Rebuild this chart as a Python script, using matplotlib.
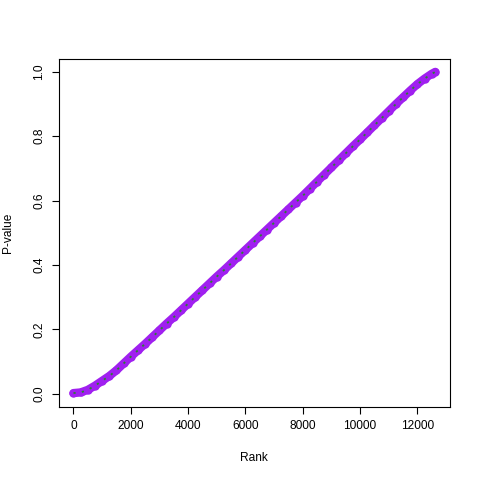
import matplotlib
matplotlib.use("Agg")
import matplotlib.pyplot as plt

plt.rcParams['font.family'] = ['Liberation Sans', 'DejaVu Sans']

# Rank of sorted p-values and their values
rank = [0, 250, 500, 750, 1000, 1250, 1500, 1750, 2000, 2250, 2500, 2750,
        3000, 3250, 3500, 3750, 4000, 4250, 4500, 4750, 5000, 5250, 5500,
        5750, 6000, 6250, 6500, 6750, 7000, 7250, 7500, 7750, 8000, 8250,
        8500, 8750, 9000, 9250, 9500, 9750, 10000, 10250, 10500, 10750,
        11000, 11250, 11500, 11750, 12000, 12250, 12500, 12625]
pvalue = [0.002, 0.004, 0.012, 0.025, 0.040, 0.055, 0.073, 0.094, 0.115,
          0.135, 0.155, 0.176, 0.197, 0.218, 0.238, 0.259, 0.280, 0.301,
          0.322, 0.343, 0.364, 0.384, 0.405, 0.426, 0.447, 0.468, 0.489,
          0.510, 0.531, 0.552, 0.573, 0.594, 0.615, 0.637, 0.659, 0.681,
          0.703, 0.725, 0.747, 0.769, 0.790, 0.812, 0.834, 0.856, 0.878,
          0.900, 0.921, 0.942, 0.962, 0.979, 0.994, 1.000]

xticks = [0, 2000, 4000, 6000, 8000, 10000, 12000]
yticks = [0.0, 0.2, 0.4, 0.6, 0.8, 1.0]

fig = plt.figure(figsize=(4.8, 4.8), dpi=100)
ax = fig.add_axes([59 / 480, (480 - 406.6) / 480, (449.8 - 59) / 480, (406.6 - 59) / 480])

purple = "#A020F0"
ax.plot(rank, pvalue, color=purple, lw=6.0, solid_capstyle='round',
        solid_joinstyle='round', zorder=2)
ax.plot(rank, pvalue, 'o', color=purple, ms=6.0, mew=0, zorder=3)
ax.plot(rank, pvalue, color="#1E8C1E", lw=1.3, dashes=(1.2, 3.5), alpha=0.9, zorder=4)

n = rank[-1]
ax.set_xlim(-0.04 * n, 1.04 * n)
ax.set_ylim(-0.04, 1.04)
ax.set_xticks(xticks)
ax.set_xticklabels([str(t) for t in xticks])
ax.set_yticks(yticks)
ax.set_yticklabels([f"{t:.1f}" for t in yticks], rotation=90, va='center')
ax.tick_params(direction='out', length=5.2, width=0.8, labelsize=8.6, pad=4.5, colors='black')
for s in ax.spines.values():
    s.set_linewidth(0.8)
    s.set_color('black')
ax.set_xlabel("Rank", fontsize=8.6, labelpad=14)
ax.set_ylabel("P-value", fontsize=8.6, labelpad=14)

fig.savefig("out.png", dpi=100)
